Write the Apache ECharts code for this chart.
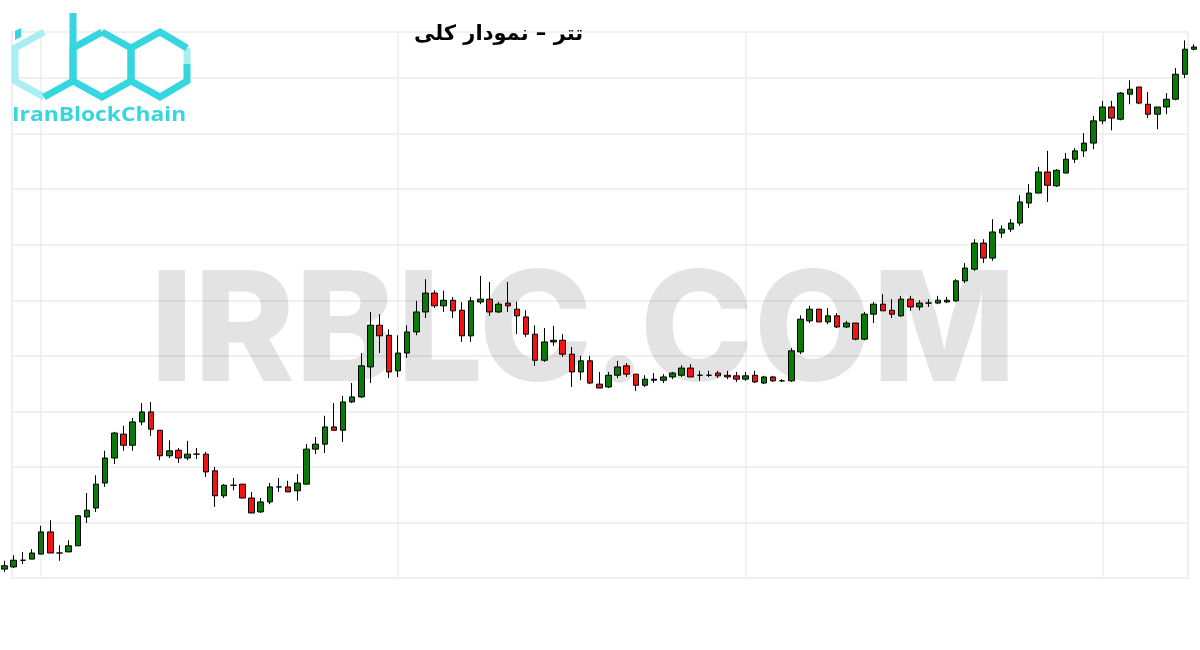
<!DOCTYPE html>
<html>
<head>
<meta charset="utf-8">
<script src="https://cdn.jsdelivr.net/npm/echarts@6/dist/echarts.min.js"></script>
<style>
html,body{margin:0;padding:0;background:#fff;}
#chart{width:1200px;height:650px;}
</style>
</head>
<body>
<div id="chart"></div>
<script>
// ---- data (price units, unlabeled scale) ----
const opens = [16,20,32,34,43,83,45,47,58,110,126,171,216,259,239,281,299,266,220,230,
216,223,223,193,148,167,169,144,119,137,164,164,157,169,232,241,272,266,317,326,
380,455,437,373,405,443,479,513,490,500,482,436,497,502,479,495,484,470,439,392,
425,428,403,371,391,349,344,365,382,367,347,356,356,362,365,378,365,365,369,365,
364,358,365,351,362,355,355,407,463,484,461,472,452,459,430,475,493,482,472,502,
488,495,495,497,499,535,556,603,576,621,628,639,675,693,731,706,729,754,769,783,
823,848,826,871,884,853,835,848,862,907,952];
const closes = [22,32,32,45,83,45,45,58,112,122,169,216,261,239,281,299,268,220,229,216,
223,223,191,148,167,167,144,117,137,164,164,155,171,232,241,272,266,317,326,382,
455,436,371,405,443,479,513,490,500,481,436,499,502,479,493,490,472,439,392,425,
428,403,371,391,351,342,365,380,367,347,358,358,362,369,378,362,365,365,364,362,
358,364,353,362,355,355,409,466,484,461,472,452,459,430,475,493,481,475,502,488,
495,495,500,500,535,558,603,576,623,628,639,677,693,731,707,734,754,769,783,823,
848,828,873,880,855,835,848,862,907,952,956];
const lows = [11,18,25,34,43,45,31,47,58,99,119,164,205,229,229,275,256,212,216,207,
212,214,182,128,144,158,144,117,117,133,155,155,139,169,223,225,266,245,315,324,
351,405,360,362,396,437,468,486,479,468,425,425,493,472,477,479,439,434,382,389,
418,398,344,356,349,342,342,360,362,337,344,351,351,358,362,362,355,362,360,358,
353,355,351,349,353,353,353,403,459,461,457,450,450,428,428,459,481,468,470,481,
482,488,493,495,497,531,553,567,571,612,623,634,666,693,677,704,729,747,758,772,
817,806,824,853,853,828,808,835,860,900,950];
const highs = [31,41,47,52,94,104,59,68,113,153,185,229,263,274,288,315,317,266,248,234,
247,234,227,200,169,180,169,155,144,171,180,175,187,241,254,292,315,328,351,405,
479,475,448,437,455,499,538,518,517,506,497,506,544,533,497,533,497,482,455,450,
454,439,416,400,400,371,371,391,387,367,365,369,367,371,383,385,373,373,373,373,
371,371,373,364,364,358,414,473,490,484,486,477,463,459,479,497,511,502,508,508,
500,502,508,506,538,567,610,610,646,635,646,689,709,740,769,736,765,774,801,832,
859,859,875,896,884,875,848,873,918,968,961];
const categories = opens.map((_, i) => String(i + 1));
const gridMarks = ['5', '44', '82', '121'];
const titleText = 'تتر – نمودار کلی';
const logoText = 'IranBlockChain';
const watermarkText = 'IRBLC.COM';

const ohlc = opens.map((o, i) => [o, closes[i], lows[i], highs[i]]);

const chart = echarts.init(document.getElementById('chart'), null, {renderer: 'canvas'});

const cyan = '#35d6df';
const cyanLight = '#a9eef2';
function hex(cx) {
  return [[cx, 32], [cx - 29, 48], [cx - 29, 81], [cx, 97], [cx + 29, 81], [cx + 29, 48], [cx, 32]];
}

const option = {
  animation: false,
  backgroundColor: '#ffffff',
  title: {
    text: titleText,
    left: 409, top: 19,
    textStyle: {fontFamily: 'DejaVu Sans', fontWeight: 'bold', fontSize: 21, color: '#000'}
  },
  grid: [
    {left: -1.5, right: 1.5, top: 32, bottom: 72, show: false},
    {left: 12, right: 12, top: 32, bottom: 72, show: true, borderColor: '#eeeeee', borderWidth: 2, backgroundColor: 'transparent'}
  ],
  xAxis: [
    {type: 'category', gridIndex: 0, data: categories, boundaryGap: true, show: false},
    {type: 'value', gridIndex: 1, min: 0, max: 1, show: false, splitLine: {show: false}}
  ],
  yAxis: [
    {type: 'value', gridIndex: 0, min: 0, max: 983, show: false, splitLine: {show: false}},
    {type: 'value', gridIndex: 1, min: 0, max: 983, interval: 100,
     axisLine: {show: false}, axisTick: {show: false}, axisLabel: {show: false},
     splitLine: {show: true, lineStyle: {color: '#f0f0f0', width: 2}}}
  ],
  graphic: [
    {type: 'text', left: 150, top: 258, z: 1, silent: true,
     style: {text: watermarkText, font: '800 153px Inter', fill: 'rgba(0,0,0,0.11)'}},
    // logo
    {type: 'polyline', z: 5, shape: {points: [[44,32],[15,48],[15,81],[44,97]]}, style: {stroke: cyanLight, lineWidth: 7, fill: null, lineJoin: 'miter'}},
    {type: 'polyline', z: 5, shape: {points: [[44,97],[73,81]]}, style: {stroke: cyan, lineWidth: 7, fill: null}},
    {type: 'polygon', z: 6, shape: {points: [[15,31],[21,28],[21,37],[15,40]]}, style: {fill: cyan}},
    {type: 'polyline', z: 6, shape: {points: [[73,13],[73,81]]}, style: {stroke: cyan, lineWidth: 7, fill: null}},
    {type: 'polyline', z: 6, shape: {points: hex(102)}, style: {stroke: cyan, lineWidth: 7, fill: null, lineJoin: 'miter'}},
    {type: 'polyline', z: 6, shape: {points: [[187,64],[187,81],[160,97],[131,81],[131,48],[160,32],[187,48]]}, style: {stroke: cyan, lineWidth: 7, fill: null, lineJoin: 'miter'}},
    {type: 'polyline', z: 5, shape: {points: [[187,48],[187,64]]}, style: {stroke: cyanLight, lineWidth: 7, fill: null}},
    {type: 'text', x: 12, y: 106, scaleX: 1.2, z: 6,
     style: {x: 0, y: 0, text: logoText, font: 'bold 19px "Open Sans"', fill: cyan, verticalAlign: 'top', align: 'left'}}
  ],
  series: [{
    type: 'candlestick',
    xAxisIndex: 0, yAxisIndex: 0,
    data: ohlc,
    barWidth: 6,
    z: 3,
    itemStyle: {
      color: '#087a08', color0: '#f21414',
      borderColor: '#000', borderColor0: '#000', borderColorDoji: '#000',
      borderWidth: 1
    },
    markLine: {
      silent: true, symbol: ['none', 'none'], label: {show: false}, z: 0,
      lineStyle: {color: '#eeeeee', width: 1.5, type: 'solid'},
      data: gridMarks.map(c => ({xAxis: c}))
    }
  }]
};
chart.setOption(option);
</script>
</body>
</html>
